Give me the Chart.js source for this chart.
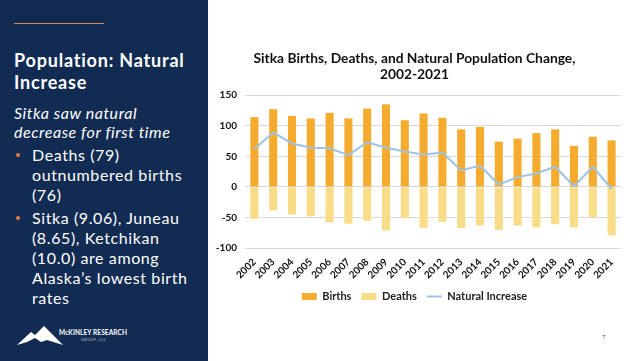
<!DOCTYPE html>
<html>
<head>
<meta charset="utf-8">
<script src="https://cdn.jsdelivr.net/npm/chart.js@4"></script>
<style>
  body { margin: 0; width: 631px; height: 361px; overflow: hidden; background: #fff; font-family: Lato, sans-serif; position: relative; }
  #side { position: absolute; left: 0; top: 0; width: 208px; height: 361px; background: #112b52; color: #fff; }
  #rule { position: absolute; left: 14px; top: 23px; width: 90px; height: 1px; background: #d9865a; }
  #head { position: absolute; left: 14px; top: 49px; font-size: 18px; font-weight: bold; line-height: 22px; letter-spacing: 0.8px; white-space: nowrap; }
  #sub { position: absolute; left: 14px; top: 103px; font-size: 16px; font-style: italic; line-height: 19px; letter-spacing: 0.55px; white-space: nowrap; }
  ul { position: absolute; left: 14px; top: 145px; margin: 0; padding: 0; list-style: none; font-size: 16px; line-height: 19.8px; letter-spacing: 0.6px; white-space: nowrap; }
  li { position: relative; padding-left: 18px; margin-bottom: 4px; }
  li::before { content: ""; position: absolute; left: 2px; top: 8px; width: 4px; height: 4px; border-radius: 50%; background: #e07b39; }
  #logo { position: absolute; left: 17px; top: 326px; }
  #logotext { position: absolute; left: 59px; top: 329px; font-size: 6.5px; font-weight: bold; letter-spacing: 0.1px; }
  #logosub { position: absolute; left: 81px; top: 338px; font-size: 3.5px; color: #c8ccd6; letter-spacing: 0.6px; }
  #page { position: absolute; left: 602px; top: 333px; font-size: 6px; color: #555; }
  #wrap { position: absolute; left: 208px; top: 46px; width: 423px; height: 267px; }
</style>
</head>
<body>
<div id="side">
  <div id="rule"></div>
  <div id="head">Population: Natural<br>Increase</div>
  <div id="sub">Sitka saw natural<br>decrease for first time</div>
  <ul>
    <li>Deaths (79)<br>outnumbered births<br>(76)</li>
    <li>Sitka (9.06), Juneau<br>(8.65), Ketchikan<br>(10.0) are among<br>Alaska’s lowest birth<br>rates</li>
  </ul>
  <svg id="logo" width="46" height="20" viewBox="0 0 46 20">
    <polygon points="0,19 14,6 18,9 27,0 46,19 30,14 24,16 18,12 10,16" fill="#fff"/>
  </svg>
  <div id="logotext">McKINLEY RESEARCH</div>
  <div id="logosub">GROUP, LLC</div>
</div>
<div id="page">7</div>
<div id="wrap"><canvas id="myChart"></canvas></div>
<script>
const years = ['2002', '2003', '2004', '2005', '2006', '2007', '2008', '2009', '2010', '2011',
    '2012', '2013', '2014', '2015', '2016', '2017', '2018', '2019', '2020', '2021'];
const births = [114, 127, 116, 112, 121, 112, 128, 135, 109, 120, 113, 94, 98, 74, 79, 88, 94, 67, 82, 76];
const deaths = [-52, -38, -45, -48, -58, -60, -55, -71, -51, -67, -57, -67, -63, -70, -63, -66, -61, -66, -49, -79];
const natural = [62, 89, 71, 64, 63, 52, 73, 64, 58, 53, 56, 27, 35, 4, 16, 22, 33, 1, 33, -3];
const yTicks = [150, 100, 50, 0, -50, -100];

const boldFont = { family: 'Lato', weight: 'bold', size: 10 };

const ctx = document.getElementById('myChart').getContext('2d');
const myChart = new Chart(ctx, {
    type: 'bar',
    data: {
        labels: years,
        datasets: [{
            type: 'line',
            label: 'Natural Increase',
            data: natural,
            borderColor: '#9dc3e6',
            backgroundColor: '#9dc3e6',
            borderWidth: 2,
            pointRadius: 0,
            tension: 0,
            order: 0
        }, {
            label: 'Births',
            data: births,
            backgroundColor: '#f5ab2e',
            barPercentage: 0.43,
            categoryPercentage: 1,
            order: 1
        }, {
            label: 'Deaths',
            data: deaths,
            backgroundColor: '#f9dc88',
            barPercentage: 0.43,
            categoryPercentage: 1,
            order: 1
        }]
    },
    options: {
        responsive: true,
        maintainAspectRatio: false,
        animation: false,
        layout: { padding: { left: 0, right: 10, top: 0, bottom: 1 } },
        plugins: {
            title: {
                display: true,
                text: ['Sitka Births, Deaths, and Natural Population Change,', '2002-2021'],
                color: '#111',
                font: { family: 'Lato', weight: 'bold', size: 13.8 },
                lineHeight: 1.1,
                padding: { top: 4, bottom: 12 }
            },
            legend: {
                position: 'bottom',
                labels: {
                    color: '#222',
                    font: { family: 'Lato', weight: 'bold', size: 11 },
                    usePointStyle: true,
                    pointStyleWidth: 15,
                    boxHeight: 7,
                    padding: 10,
                    sort: (a, b) => ['Births', 'Deaths', 'Natural Increase'].indexOf(a.text) - ['Births', 'Deaths', 'Natural Increase'].indexOf(b.text),
                    generateLabels: (chart) => Chart.defaults.plugins.legend.labels.generateLabels(chart).map(l => {
                        l.pointStyle = l.text === 'Natural Increase' ? 'line' : 'rect';
                        l.lineWidth = l.text === 'Natural Increase' ? 2 : 0;
                        return l;
                    })
                }
            },
            tooltip: { enabled: false }
        },
        scales: {
            x: {
                stacked: true,
                grid: { display: false },
                border: { display: false },
                ticks: { color: '#111', font: boldFont, autoSkip: false, maxRotation: 45, minRotation: 45, padding: 0 }
            },
            y: {
                min: -100,
                max: 150,
                afterFit: (scale) => { scale.width = 37; },
                afterBuildTicks: (scale) => { scale.ticks = yTicks.map(v => ({ value: v })); },
                grid: { color: '#d9d9d9', drawTicks: false },
                border: { display: false },
                ticks: { color: '#111', font: boldFont, padding: 8 }
            }
        }
    }
});
</script>
</body>
</html>
